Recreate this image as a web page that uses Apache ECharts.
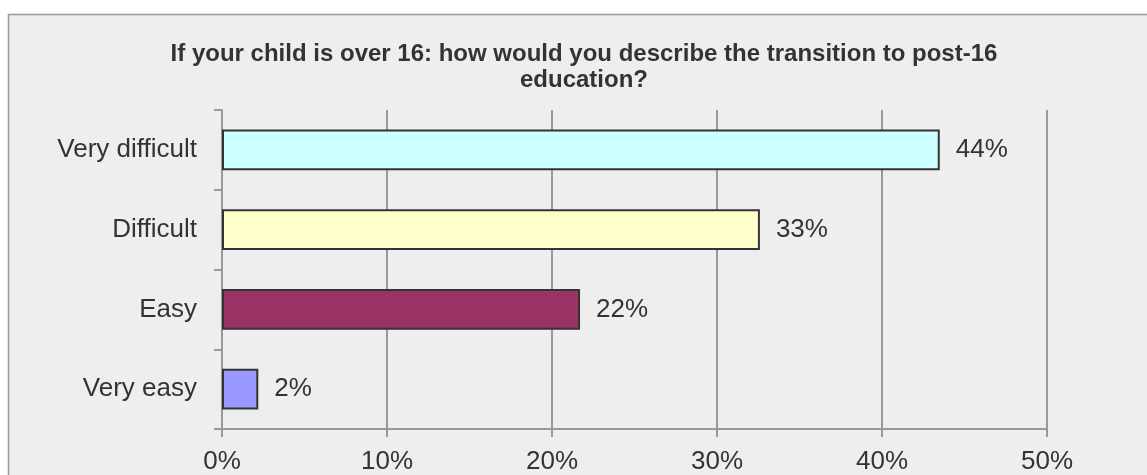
<!DOCTYPE html>
<html>
<head>
<meta charset="utf-8">
<style>
  html, body { margin: 0; padding: 0; background: #ffffff; }
  #chart { width: 1147px; height: 475px; }
</style>
<script src="https://cdn.jsdelivr.net/npm/echarts@6/dist/echarts.min.js"></script>
</head>
<body>
<div id="chart"></div>
<script>
// Survey answers, top to bottom
const categories = ['Very difficult', 'Difficult', 'Easy', 'Very easy'];
const shares = [43.5, 32.6, 21.7, 2.2];
const barColors = ['#ccffff', '#ffffcc', '#993366', '#9999ff'];
const axisTicks = [0, 10, 20, 30, 40, 50];

const chart = echarts.init(document.getElementById('chart'), null, { renderer: 'canvas' });

const textFont = 'Liberation Sans, Arial, sans-serif';

chart.setOption({
  animation: false,
  backgroundColor: '#ffffff',
  graphic: [{
    type: 'rect',
    z: -10,
    shape: { x: 8.5, y: 14.5, width: 1200, height: 500 },
    style: { fill: '#eeeeee', stroke: '#999999', lineWidth: 1.5 }
  }],
  title: {
    text: 'If your child is over 16: how would you describe the transition to post-16\neducation?',
    left: 579,
    top: 36,
    textAlign: 'center',
    textStyle: {
      fontFamily: textFont,
      fontSize: 24,
      fontWeight: 'bold',
      color: '#333333',
      lineHeight: 26
    }
  },
  grid: { left: 222, right: 100, top: 110, bottom: 42, containLabel: false },
  xAxis: {
    type: 'value',
    min: axisTicks[0],
    max: axisTicks[axisTicks.length - 1],
    interval: 10,
    axisLine: { show: true, lineStyle: { color: '#999999', width: 2 } },
    axisTick: { show: true, length: 8, lineStyle: { color: '#999999', width: 2 } },
    splitLine: { show: true, lineStyle: { color: '#999999', width: 2 } },
    axisLabel: {
      margin: 20,
      fontFamily: textFont,
      fontSize: 26,
      color: '#333333',
      formatter: v => v + '%'
    }
  },
  yAxis: {
    type: 'category',
    inverse: true,
    data: categories,
    axisLine: { show: true, lineStyle: { color: '#999999', width: 2 } },
    axisTick: { show: true, length: 8, lineStyle: { color: '#999999', width: 2 } },
    axisLabel: {
      margin: 25,
      fontFamily: textFont,
      fontSize: 26,
      color: '#333333'
    }
  },
  series: [{
    type: 'bar',
    barWidth: '51%',
    data: shares.map((v, i) => ({
      value: v,
      itemStyle: { color: barColors[i], borderColor: '#333333', borderWidth: 2 }
    })),
    label: {
      show: true,
      position: 'right',
      distance: 16,
      fontFamily: textFont,
      fontSize: 26,
      color: '#333333',
      formatter: p => Math.round(p.value) + '%'
    }
  }]
});
</script>
</body>
</html>
